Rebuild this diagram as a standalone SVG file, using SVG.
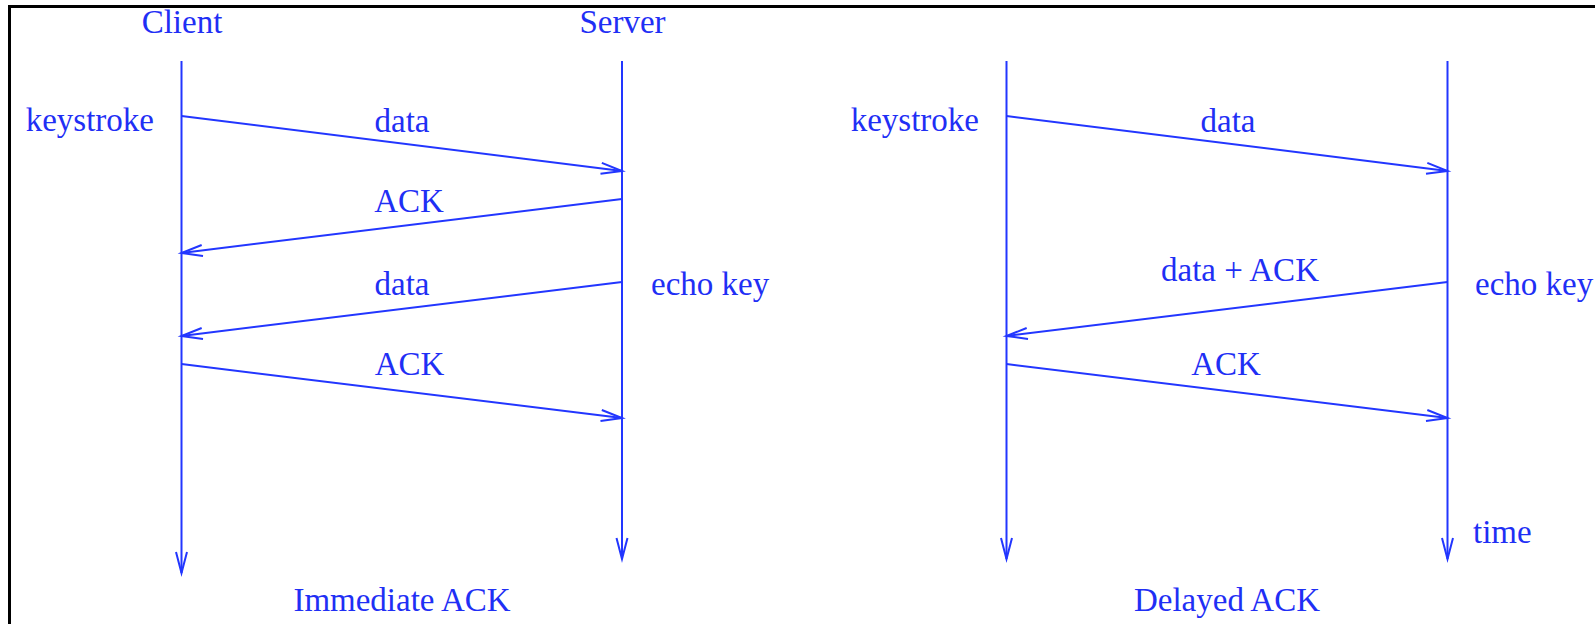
<svg xmlns="http://www.w3.org/2000/svg" width="1595" height="624" viewBox="0 0 1595 624">
<style>
.ln{stroke:#2236ff;stroke-width:2;fill:none}
.ar{marker-end:url(#v)}
text{font-family:"Liberation Serif","Times New Roman",serif;font-size:33px;fill:#1f2ff5}
.m{text-anchor:middle}
.e{text-anchor:end}
</style>
<defs>
<marker id="v" markerUnits="userSpaceOnUse" orient="auto" refX="0" refY="0" markerWidth="30" markerHeight="30" viewBox="-25 -10 30 20" overflow="visible">
<path d="M-21,-5.5 L0,0 L-21,5.5" fill="none" stroke="#2236ff" stroke-width="2"/>
</marker>
</defs>
<rect x="0" y="0" width="1595" height="624" fill="#fff"/>
<g id="frame">
<line x1="9.5" y1="6.5" x2="1595" y2="6.5" stroke="#000" stroke-width="3"/>
<line x1="9.5" y1="5" x2="9.5" y2="624" stroke="#000" stroke-width="3"/>
</g>
<g id="client"><text class="m" x="182" y="33">Client</text></g>
<g id="server"><text class="m" x="622.5" y="33">Server</text></g>
<g id="labels">
<text class="e" x="154" y="131">keystroke</text>
<text class="e" x="979" y="131">keystroke</text>
<text x="651" y="295">echo key</text>
<text x="1475" y="295">echo key</text>
<text x="1473" y="543">time</text>
</g>
<g id="immediate"><text class="m" x="402" y="611">Immediate ACK</text></g>
<g id="delayed"><text class="m" x="1227" y="611">Delayed ACK</text></g>
<g id="connectors">
<line class="ln ar" x1="181.5" y1="61" x2="181.5" y2="573"/>
<line class="ln ar" x1="622" y1="61" x2="622" y2="559"/>
<line class="ln ar" x1="1006.5" y1="61" x2="1006.5" y2="559"/>
<line class="ln ar" x1="1447.5" y1="61" x2="1447.5" y2="559"/>
<line class="ln ar" x1="181.5" y1="116" x2="622" y2="171"/>
<line class="ln ar" x1="622" y1="199" x2="181.5" y2="253"/>
<line class="ln ar" x1="622" y1="282" x2="181.5" y2="336"/>
<line class="ln ar" x1="181.5" y1="364" x2="622" y2="418"/>
<line class="ln ar" x1="1006.5" y1="116" x2="1447.5" y2="171"/>
<line class="ln ar" x1="1447.5" y1="282" x2="1006.5" y2="336"/>
<line class="ln ar" x1="1006.5" y1="364" x2="1447.5" y2="418"/>
</g>
<g id="msg-labels">
<text class="m" x="402" y="132">data</text>
<text class="m" x="409" y="212">ACK</text>
<text class="m" x="402" y="295">data</text>
<text class="m" x="409.5" y="375">ACK</text>
<text class="m" x="1228" y="132">data</text>
<text class="m" x="1240" y="281">data + ACK</text>
<text class="m" x="1226" y="375">ACK</text>
</g>
</svg>
